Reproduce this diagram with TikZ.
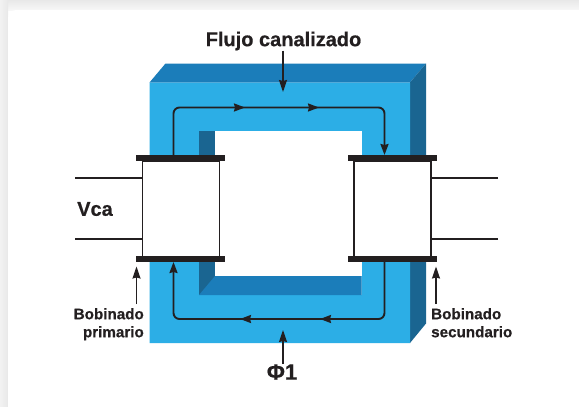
\documentclass[tikz,border=0pt]{standalone}
\usepackage{fontspec}
\setmainfont[FakeBold=0.55]{Liberation Sans Bold}
\usetikzlibrary{arrows.meta}
\definecolor{corefront}{HTML}{2CAEE6}
\definecolor{coretop}{HTML}{1B7DBA}
\definecolor{coreside}{HTML}{1A6591}
\definecolor{inkblack}{HTML}{231F20}
\tikzset{
    label/.style={text=inkblack, inner sep=0pt},
    wire/.style={inkblack, line width=1.2pt},
    fluxline/.style={inkblack, line width=1.9pt, rounded corners=6pt},
    tipped/.style={-{Stealth[length=11pt, width=8pt, inset=1pt]}},
    callout/.style={inkblack, line width=1.3pt, -{Stealth[length=12pt, width=8pt, inset=1pt]}},
    coilbar/.style={fill=inkblack, draw=none}
}
\begin{document}
\begin{tikzpicture}[x=1pt, y=-1pt]
            \useasboundingbox (0,0) rectangle (579,407);

            % Card behind the picture
            \shade[top color=black!9, bottom color=black!3] (0,0) rectangle (579,10);
            \shade[left color=black!5, right color=black!9] (0,0) rectangle (8,407);
            \fill[white, rounded corners=8pt] (8,10) rectangle (590,420);

            % Front, top and side faces of the core
            \fill[coretop] (149.5,82.5) -- (165.5,63.5) -- (426,63.5) -- (410,82.5) -- cycle;
            \fill[coreside] (410,82.5) -- (426,63.5) -- (426,323.5) -- (410,343) -- cycle;
            \fill[corefront, even odd rule] (149.5,82.5) rectangle (410,343) (199,131) rectangle (361.5,295);
            \fill[coreside] (199,131) rectangle (215,295);
            \fill[coretop] (199,295) -- (215,276) -- (361.5,276) -- (361.5,295) -- cycle;
            \fill[white] (215,131) rectangle (361.5,276);

            % Coils
            \foreach \name/\x in {pri/141.5, sec/353.2} {
                \node[draw=inkblack, fill=white, line width=1.5pt, minimum width=77pt, minimum height=96pt, inner sep=0pt, anchor=north west] (\name) at (\x,160) {};
                \fill[coilbar] (\x-5.5,155) rectangle (\x+83.5,161);
                \fill[coilbar] (\x-5.5,256) rectangle (\x+83.5,262);
            }

            % Wires
            \coordinate (w1) at (75,178);
            \coordinate (w2) at (75,239);
            \coordinate (w3) at (498,178);
            \coordinate (w4) at (498,239);
            \draw[wire] (w1) -- (w1 -| pri.west);
            \draw[wire] (w2) -- (w2 -| pri.west);
            \draw[wire] (w3) -- (w3 -| sec.east);
            \draw[wire] (w4) -- (w4 -| sec.east);

            % Flux path
            \coordinate (f1) at (173.5,155);
            \coordinate (f2) at (173.5,107.5);
            \coordinate (f3) at (245,107.5);
            \coordinate (f4) at (319,107.5);
            \coordinate (f5) at (384.5,107.5);
            \coordinate (f6) at (384.5,155);
            \coordinate (f7) at (384.5,262);
            \coordinate (f8) at (384.5,319);
            \coordinate (f9) at (320,319);
            \coordinate (f10) at (240,319);
            \coordinate (f11) at (173.5,319);
            \coordinate (f12) at (173.5,262);
            \draw[fluxline, tipped] (f1) -- (f2) -- (f5) -- (f6);
            \draw[fluxline, tipped] (f7) -- (f8) -- (f11) -- (f12);
            \draw[fluxline, tipped] (f2) ++(40,0) -- (f3);
            \draw[fluxline, tipped] (f3) ++(40,0) -- (f4);
            \draw[fluxline, tipped] (f8) ++(-30,0) -- (f9);
            \draw[fluxline, tipped] (f9) ++(-40,0) -- (f10);

            % Labels and their arrows
            \node[label, font=\fontsize{20}{20}\selectfont] (flujo) at (283.5,41) {Flujo canalizado};
            \node[label, font=\fontsize{20}{20}\selectfont] (vca) at (95,209) {Vca};
            \node[label, font=\fontsize{15.2}{18}\selectfont, align=right, anchor=north east] (primario) at (144,308) {Bobinado\\primario};
            \node[label, font=\fontsize{15.2}{18}\selectfont, align=left, anchor=north west] (secundario) at (431,308) {Bobinado\\secundario};
            \node[label, font=\fontsize{22}{22}\selectfont] (phi) at (282,372) {Φ1};

            \coordinate (a1) at (283,92);
            \coordinate (a2) at (136.5,266.5);
            \coordinate (a3) at (436,266.5);
            \coordinate (a4) at (283,330);
            \draw[callout] (flujo.south -| a1) -- (a1);
            \draw[callout] (primario.north -| a2) ++(0,-4) -- (a2);
            \draw[callout] (secundario.north -| a3) ++(0,-4) -- (a3);
            \draw[callout] (phi.north -| a4) -- (a4);
        \end{tikzpicture}
\end{document}
